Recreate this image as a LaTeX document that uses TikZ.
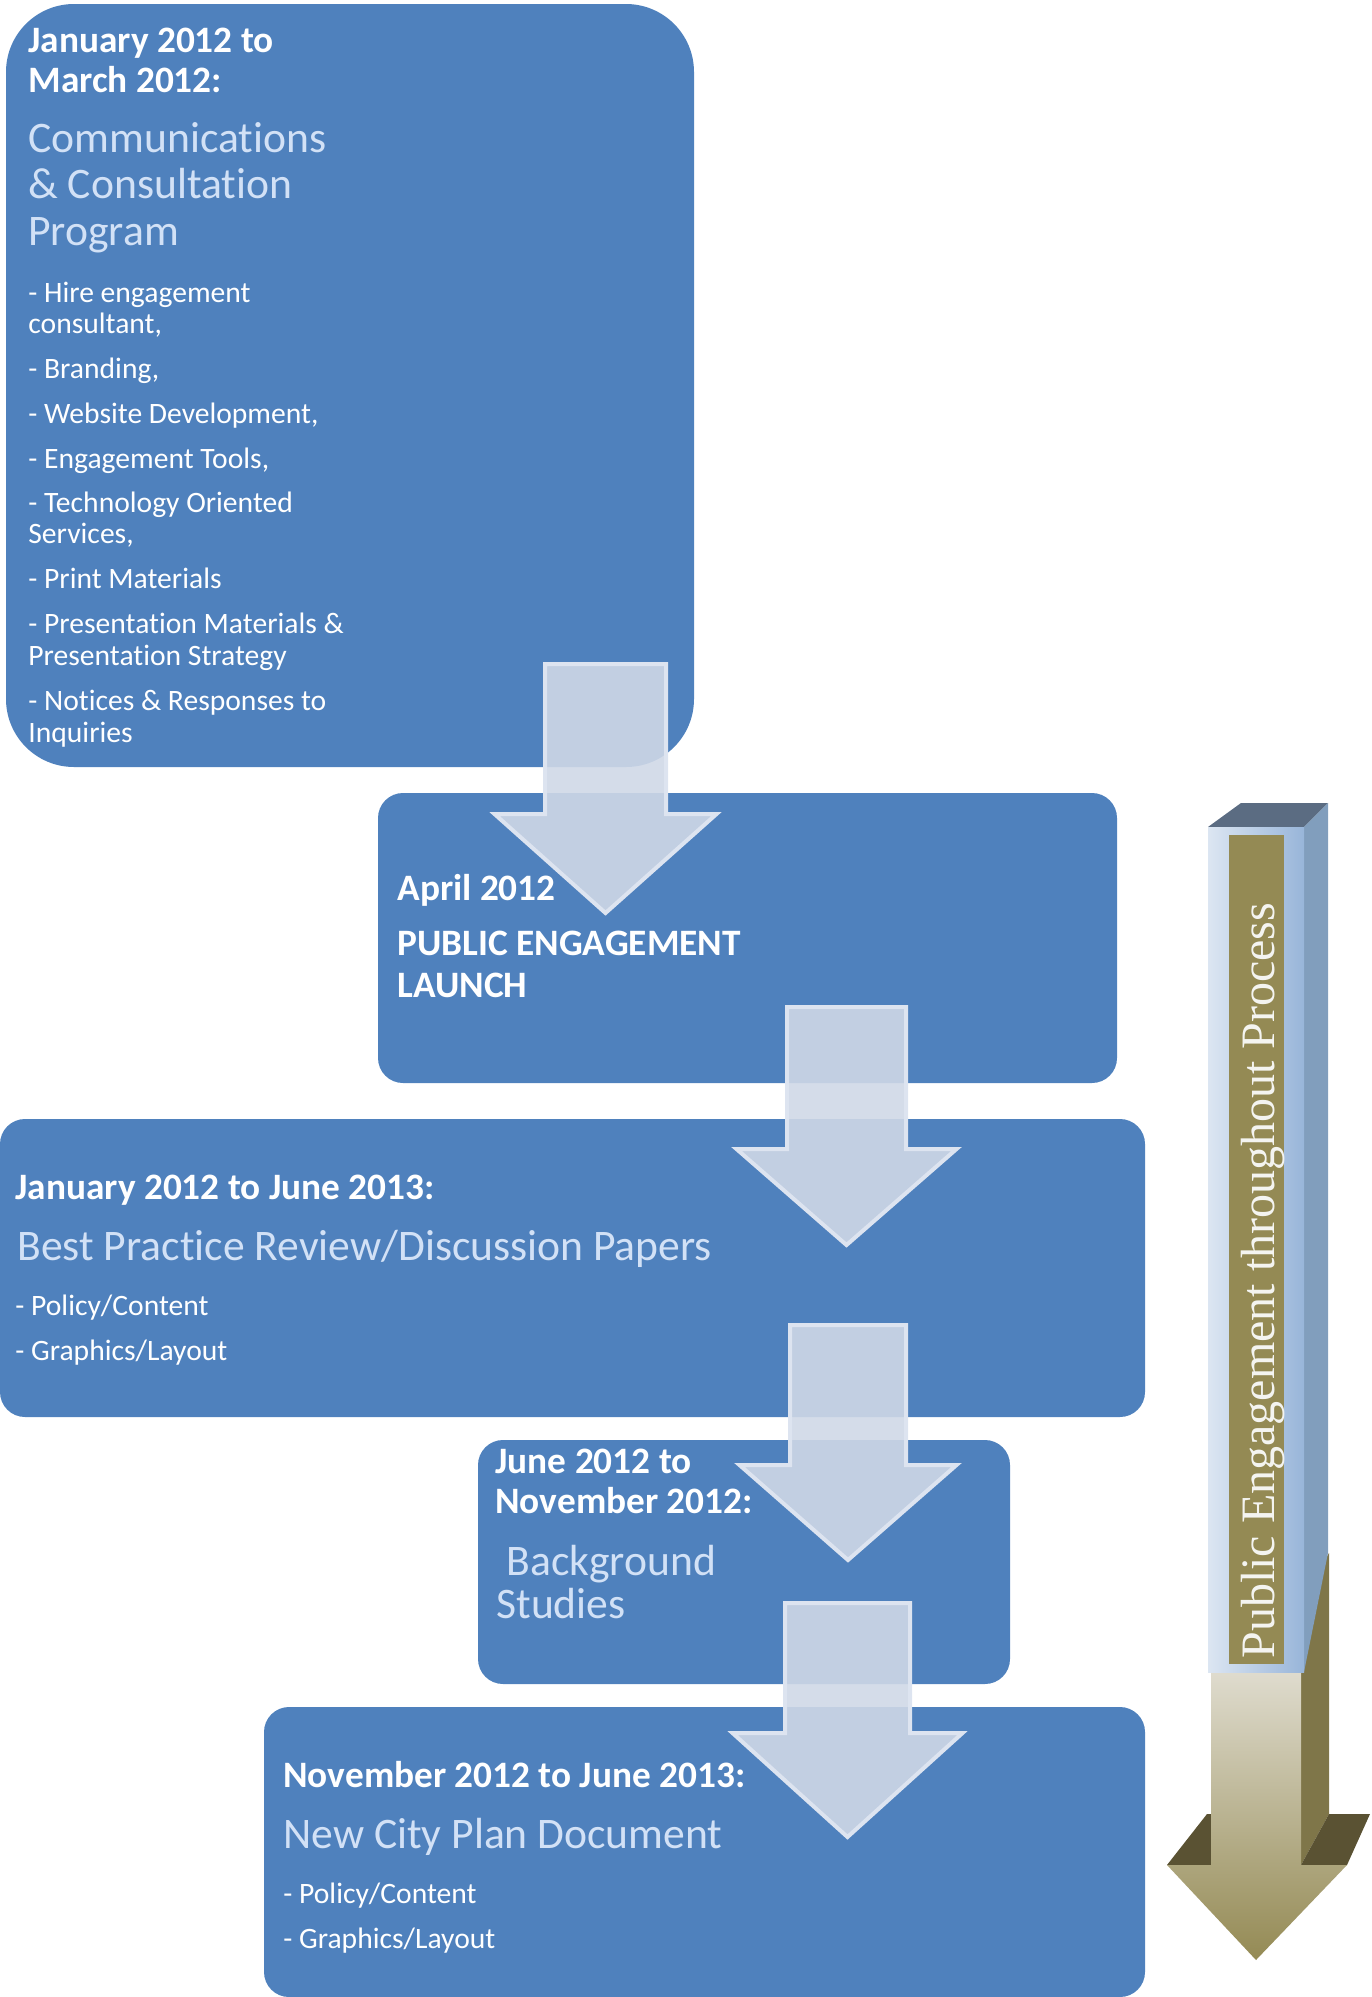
\documentclass[tikz,border=0pt]{standalone}
\usepackage{fontspec}
\setmainfont{Carlito}[Ligatures=NoCommon]
\newfontfamily\bannerfont{Liberation Serif}
\usetikzlibrary{positioning}
\definecolor{phaseblue}{HTML}{4F81BD}
\definecolor{headblue}{HTML}{D2E1F6}
\definecolor{arrowfill}{RGB}{207,216,231}
\definecolor{arrowedge}{RGB}{221,228,240}
\definecolor{olive}{HTML}{948A54}
\definecolor{olivedark}{HTML}{7F7649}
\definecolor{oliveshade}{HTML}{5A5233}
\definecolor{olivelight}{HTML}{E2DFD3}
\definecolor{coltop}{HTML}{5B6C82}
\definecolor{colside}{HTML}{819EBD}
\definecolor{colfront}{HTML}{DCE6F2}
\definecolor{colfrontdark}{HTML}{98B5D9}
\definecolor{bannertext}{HTML}{F4F4F0}

% block arrow: centre x, top y, shaft half width, head y, head half width, tip y
\newcommand{\blockarrow}[6]{%
  \draw[downarrow] (#1-#3,#2) -- (#1+#3,#2) -- (#1+#3,#4) -- (#1+#5,#4)
    -- (#1,#6) -- (#1-#5,#4) -- (#1-#3,#4) -- cycle;}

\begin{document}
\begin{tikzpicture}[x=0.5pt,y=-0.5pt,
    phasebox/.style={fill=phaseblue,inner sep=0pt,rounded corners=12.5pt},
    downarrow/.style={fill=arrowfill,fill opacity=0.9,draw=arrowedge,line width=2pt,line join=miter},
    datetxt/.style={anchor=base west,inner sep=0pt,text=white,font=\bfseries\fontsize{18.65}{20}\selectfont},
    headtxt/.style={anchor=base west,inner sep=0pt,text=headblue,font=\fontsize{21.8}{24}\selectfont},
    itemtxt/.style={anchor=base west,inner sep=0pt,text=white,font=\fontsize{14.8}{16}\selectfont},
    bannertxt/.style={inner sep=0pt,text=bannertext,font=\bannerfont\fontsize{24}{28}\selectfont}]
  \useasboundingbox (0,0) rectangle (1371,1997);
  %the five phase boxes
  \node[phasebox,rounded corners=34pt,minimum width=344pt,minimum height=381.5pt] (consult) at (350,385.5) {};
  \node[phasebox,minimum width=369.5pt,minimum height=145pt] (launch) at (747.5,938) {};
  \node[phasebox,minimum width=572.5pt,minimum height=149pt] (review) at (572.5,1268) {};
  \node[phasebox,minimum width=266pt,minimum height=122pt] (studies) at (744,1562) {};
  \node[phasebox,minimum width=440.5pt,minimum height=145pt] (cityplan) at (704.5,1852) {};
  %arrows between the boxes
  \blockarrow{605.5}{664}{60.5}{814}{111}{913}
  \blockarrow{846.5}{1007}{59.5}{1149}{110}{1245}
  \blockarrow{848}{1325}{58}{1465}{108.5}{1560}
  \blockarrow{847.5}{1603}{62.5}{1733}{115}{1837}
  %texts of box 1
  \node[datetxt] (d1a) at (28,52) {January 2012 to};
  \node[datetxt] (d1b) at (28,92) {March 2012:};
  \node[headtxt] (h1a) at (28,152) {Communications};
  \node[headtxt] (h1b) at (28,198) {\& Consultation};
  \node[headtxt] (h1c) at (28,245) {Program};
  \foreach \yy/\txt [count=\i] in {302/{- Hire engagement},333/{consultant,},378/{- Branding,},
      423/{- Website Development,},468/{- Engagement Tools,},512/{- Technology Oriented},
      543/{Services,},588/{- Print Materials},633/{- Presentation Materials \&},
      665/{Presentation Strategy},710/{- Notices \& Responses to},742/{Inquiries}}
    \node[itemtxt] (item\i) at (28,\yy) {\txt};
  %texts of box 2
  \node[datetxt] (d2) at (397,900) {April 2012};
  \node[datetxt] (h2a) at (397,955) {PUBLIC ENGAGEMENT};
  \node[datetxt] (h2b) at (397,997) {LAUNCH};
  %texts of box 3
  \node[datetxt] (d3) at (15,1199) {January 2012 to June 2013:};
  \node[headtxt] (h3) at (17,1260) {Best Practice Review/Discussion Papers};
  \node[itemtxt] (p3a) at (15,1315) {- Policy/Content};
  \node[itemtxt] (p3b) at (15,1360) {- Graphics/Layout};
  %texts of box 4
  \node[datetxt] (d4a) at (495,1473) {June 2012 to};
  \node[datetxt] (d4b) at (495,1513) {November 2012:};
  \node[headtxt] (h4a) at (506,1575) {Background};
  \node[headtxt] (h4b) at (496,1618) {Studies};
  %texts of box 5
  \node[datetxt] (d5) at (283,1787) {November 2012 to June 2013:};
  \node[headtxt] (h5) at (283,1848) {New City Plan Document};
  \node[itemtxt] (p5a) at (283,1903) {- Policy/Content};
  \node[itemtxt] (p5b) at (283,1948) {- Graphics/Layout};
  %olive arrow behind the column
  \fill[olivedark] (1301,1600) -- (1329,1553) -- (1329,1814) -- (1301,1865) -- cycle;
  \fill[oliveshade] (1207,1814) -- (1211,1814) -- (1211,1865) -- (1167,1865) -- cycle;
  \fill[oliveshade] (1301,1865) -- (1329,1814) -- (1370,1814) -- (1347,1865) -- cycle;
  \shade[top color=olivelight,bottom color=olive] (1211,1660) -- (1301,1660) -- (1301,1865)
    -- (1347,1865) -- (1256,1960) -- (1167,1865) -- (1211,1865) -- cycle;
  %the column
  \fill[coltop] (1208,827) -- (1241,803) -- (1328,803) -- (1304,827) -- cycle;
  \fill[colside] (1304,827) -- (1328,803) -- (1328,1553) -- (1304,1672) -- cycle;
  \shade[left color=colfront,right color=colfrontdark] (1208,827) rectangle (1304,1672);
  \fill[olive] (1229,835) rectangle (1284,1664);
  \node[bannertxt,rotate=90,anchor=base west] (banner) at (1274,1659) {Public Engagement throughout Process};
\end{tikzpicture}
\end{document}
